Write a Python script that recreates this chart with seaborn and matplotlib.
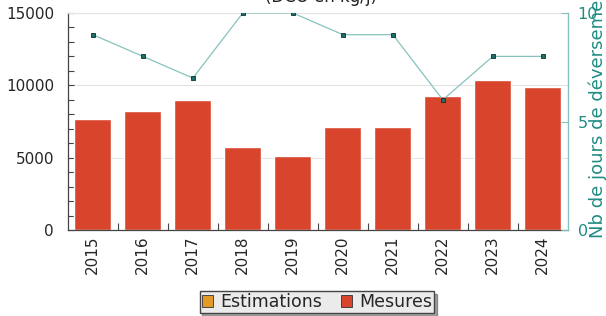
import matplotlib
matplotlib.use('Agg')
import matplotlib.pyplot as plt
from matplotlib.patches import Patch
from matplotlib.ticker import MultipleLocator
import seaborn as sns
import pandas as pd

years = ['2015', '2016', '2017', '2018', '2019', '2020', '2021', '2022', '2023', '2024']
mesures = [7670, 8220, 8990, 5740, 5110, 7120, 7120, 9260, 10370, 9880]
jours = [9, 8, 7, 10, 10, 9, 9, 6, 8, 8]

red = '#d9452c'
orange = '#e39a26'
teal = '#1f8c83'
teal_light = '#86c3bd'

sns.set_style('white')
plt.rcParams['font.family'] = ['DejaVu Sans']

df = pd.DataFrame({'annee': years, 'mesures': mesures, 'jours': jours})

fig = plt.figure(figsize=(6.06, 3.16), dpi=100)
ax = fig.add_axes([0.112, 0.272, 0.825, 0.687])

sns.barplot(data=df, x='annee', y='mesures', color=red, width=0.74,
            saturation=1, ax=ax, zorder=2)
ax.set_ylim(0, 15000)
ax.set_xlim(-0.5, len(years) - 0.5)
ax.yaxis.set_major_locator(MultipleLocator(5000))
ax.yaxis.set_minor_locator(MultipleLocator(1000))
ax.grid(axis='y', color='#e4e4e4', lw=0.8, zorder=0)
ax.set_axisbelow(True)
ax.set_xlabel('')
ax.set_ylabel('')
ax.tick_params(axis='y', which='both', direction='in', length=4, width=0.8,
               color='#444444', labelsize=11, left=True, pad=10)
ax.tick_params(axis='x', which='major', length=0, labelsize=11, labelrotation=90,
               pad=4)
ax.set_xticks([i + 0.5 for i in range(len(years) - 1)], minor=True)
ax.tick_params(axis='x', which='minor', direction='in', length=5, width=0.8,
               color='#444444', bottom=True)
for s in ['left', 'bottom']:
    ax.spines[s].set_color('#444444')
    ax.spines[s].set_linewidth(0.9)
ax.spines['top'].set_color('#e4e4e4')
ax.spines['right'].set_visible(False)

ax2 = ax.twinx()
sns.pointplot(data=df, x='annee', y='jours', ax=ax2, color=teal_light,
              markers='s', markersize=3, linewidth=0.9, zorder=3)
for ln in ax2.lines:
    ln.set_markerfacecolor('#1d6f69')
    ln.set_markeredgecolor('#0d2f2c')
    ln.set_markeredgewidth(0.6)
ax2.set_ylim(0, 10)
ax2.set_xlim(-0.5, len(years) - 0.5)
ax2.set_yticks([0, 5, 10])
ax2.set_ylabel('')
ax2.set_xlabel('')
ax2.tick_params(axis='y', direction='in', length=5, width=0.8, color=teal_light,
                labelcolor=teal, labelsize=11.5, right=True, pad=7)
for s in ['left', 'top', 'bottom']:
    ax2.spines[s].set_visible(False)
ax2.spines['right'].set_color(teal_light)
ax2.spines['right'].set_linewidth(1.0)

fig.text(0.53, 1.008, '(DCO en kg/j)', ha='center', va='center', fontsize=12,
         color='#222222')
fig.text(0.986, 0.247, 'Nb de jours de déversement', rotation=90, ha='center',
         va='bottom', fontsize=13, color=teal)

handles = [Patch(facecolor=orange, edgecolor='#333333', linewidth=0.6),
           Patch(facecolor=red, edgecolor='#333333', linewidth=0.6)]
leg = fig.legend(handles, ['Estimations', 'Mesures'], loc='center',
                 bbox_to_anchor=(0.523, 0.044), ncol=2, fontsize=12.5,
                 handlelength=0.65, handleheight=0.65, handletextpad=0.4,
                 columnspacing=1.1, borderpad=0.12, borderaxespad=0,
                 frameon=True, fancybox=False, shadow=True)
leg.get_frame().set_facecolor('#ebebeb')
leg.get_frame().set_edgecolor('#444444')
leg.get_frame().set_alpha(1)

fig.savefig('out.png', dpi=100)
